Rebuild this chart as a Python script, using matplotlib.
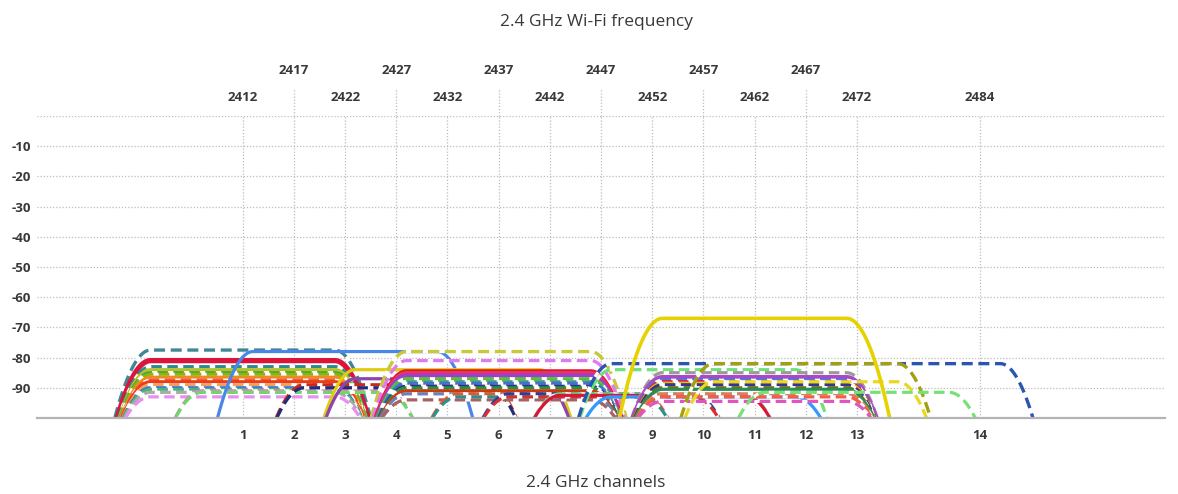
import matplotlib.pyplot as plt
import numpy as np

plt.rcParams['font.family'] = ['Open Sans', 'DejaVu Sans']

chan_nums = list(range(1, 15))
chan_freqs = [2412, 2417, 2422, 2427, 2432, 2437, 2442, 2447, 2452, 2457, 2462, 2467, 2472, 2484]
upper_row = [2417, 2427, 2437, 2447, 2457, 2467]
y_ticks = [-10, -20, -30, -40, -50, -60, -70, -80, -90]

# one entry per network: channel, channel width (MHz), signal (dBm), colour, dashed, line width
net_chan = [1, 1, 1, 1, 1, 1, 1, 1, 1, 1, 1, 1, 1, 1,
            2, 2, 3, 4, 4, 5, 5,
            6, 6, 6, 6, 6, 6, 6, 6, 6, 6, 6, 6, 6, 6,
            7, 7, 8, 8, 9, 9, 10, 10,
            11, 11, 11, 11, 11, 11, 11, 11, 11, 11, 11, 11,
            12, 12, 12, 13, 11]
net_width = [20] * 55 + [40, 20, 20, 20, 20]
net_level = [-77.5, -81, -83, -84, -85, -85.5, -86.5, -87.5, -88, -89, -90, -90.5, -91.5, -93,
             -91, -91.5, -78, -89, -90, -84, -87,
             -78, -81, -84.5, -85, -85.5, -86, -87, -88, -88.5, -89.5, -90, -91, -92, -94,
             -92, -93, -92, -93, -92, -92.5, -84, -93,
             -85, -86.5, -87, -87.5, -88, -88.5, -89, -90, -90.5, -92, -93, -94.5,
             -82, -82, -88, -91.5, -67]
net_color = ['#3f8796', '#dc143c', '#2b8c94', '#b5c22a', '#3ca23c', '#86b514', '#f08a1c',
             '#f05a46', '#ee3b1a', '#f0a060', '#3a6fd8', '#47b47a', '#aaaaaa', '#e98ff0',
             '#f07ac0', '#6ad86a', '#4a86e8', '#c8281e', '#1f2d7a', '#e0cc10', '#8e44ad',
             '#c9c83a', '#e07af0', '#dc143c', '#f03c3c', '#d0309a', '#9b3fd0', '#5cbf3a',
             '#34b070', '#4a6ed0', '#26338a', '#2a9040', '#cc3a10', '#7080b0', '#a86060',
             '#e05a30', '#2f8f8f', '#2a3f9a', '#d83030', '#66dd77', '#dc143c', '#6fe07a', '#3399ff',
             '#9a9a9a', '#b146c2', '#a04cc8', '#3a80e8', '#e0203c', '#e6c200', '#353595',
             '#6f7010', '#2e8b57', '#e57a5a', '#f06048', '#e055c0',
             '#2a55b0', '#a3a010', '#e8d820', '#77e077', '#e6d200']
net_dash = [1, 0, 1, 0, 1, 1, 0, 1, 0, 1, 1, 1, 1, 1,
            1, 1, 0, 1, 1, 0, 0,
            1, 1, 0, 0, 0, 0, 1, 1, 1, 1, 1, 0, 1, 1,
            1, 1, 1, 1, 1, 0, 1, 0,
            1, 0, 0, 1, 1, 1, 1, 1, 0, 1, 1, 1,
            1, 1, 1, 1, 0]
net_lw = [2.4, 3.8] + [2.3] * 12 + [2.3] * 7 + [2.4, 2.3, 2.8] + [2.3] * 11 + [2.3] * 8 + \
         [2.3, 3.2] + [2.3] * 10 + [2.4, 2.4, 2.3, 2.3, 2.6]


def signal_curve(f0, width, level):
    flat = width / 2 - 1
    base = width / 2 + 1 + (level + 100) / 15
    t = np.linspace(0, 1, 30)
    mid = (base + flat) / 2
    # rounded left corner (quadratic bezier)
    lx = (1 - t) ** 2 * (-base) + 2 * (1 - t) * t * (-mid) + t ** 2 * (-flat)
    ly = (1 - t) ** 2 * (-100) + 2 * (1 - t) * t * level + t ** 2 * level
    xs = np.concatenate([lx, -lx[::-1]]) + f0
    ys = np.concatenate([ly, ly[::-1]])
    return xs, ys


fig = plt.figure(figsize=(11.78, 4.94), dpi=100)
ax = fig.add_axes([37 / 1178, 76 / 494, 1128 / 1178, 302 / 494])
ax.set_xlim(2391.9, 2502.1)
ax.set_ylim(-100, 0)

grid_kw = dict(color='#bdbdbd', lw=0.9, ls=(0, (1, 1.5)), zorder=0)
for yv in [0] + y_ticks:
    ax.axhline(yv, **grid_kw)
for f in chan_freqs:
    ax.plot([f, f], [-100, 0], **grid_kw)
for f in upper_row:
    ax.plot([f, f], [0, 9.3], clip_on=False, **grid_kw)

for i in range(len(net_chan)):
    xs, ys = signal_curve(chan_freqs[net_chan[i] - 1], net_width[i], net_level[i])
    if net_dash[i]:
        ax.plot(xs, ys, color=net_color[i], lw=net_lw[i], ls=(0, (3.3, 1.7)),
                gapcolor='white', zorder=2 + i * 0.01, solid_capstyle='butt')
    else:
        ax.plot(xs, ys, color=net_color[i], lw=net_lw[i], zorder=2 + i * 0.01)

for s in ['top', 'left', 'right']:
    ax.spines[s].set_visible(False)
ax.spines['bottom'].set_color('#b4b4b4')
ax.spines['bottom'].set_linewidth(1.6)
ax.spines['bottom'].set_zorder(5)

txt_color = '#383838'
ax.set_xticks(chan_freqs, labels=[str(n) for n in chan_nums])
ax.set_yticks(y_ticks, labels=[str(v) for v in y_ticks])
ax.tick_params(length=0, labelsize=9.5, labelcolor=txt_color)
ax.tick_params(axis='x', pad=8)
ax.tick_params(axis='y', pad=4)
for lab in ax.get_xticklabels() + ax.get_yticklabels():
    lab.set_fontweight('bold')

for f in chan_freqs:
    yl = 1.152 if f in upper_row else 1.06
    ax.text(f, yl, str(f), transform=ax.get_xaxis_transform(), ha='center', va='center',
            fontsize=9.5, fontweight='bold', color=txt_color)

fig.text(0.506, 0.955, '2.4 GHz Wi-Fi frequency', ha='center', va='center',
         fontsize=12.5, color=txt_color)
fig.text(0.506, 0.022, '2.4 GHz channels', ha='center', va='center',
         fontsize=12.5, color=txt_color)

fig.savefig('out.png', dpi=100)
